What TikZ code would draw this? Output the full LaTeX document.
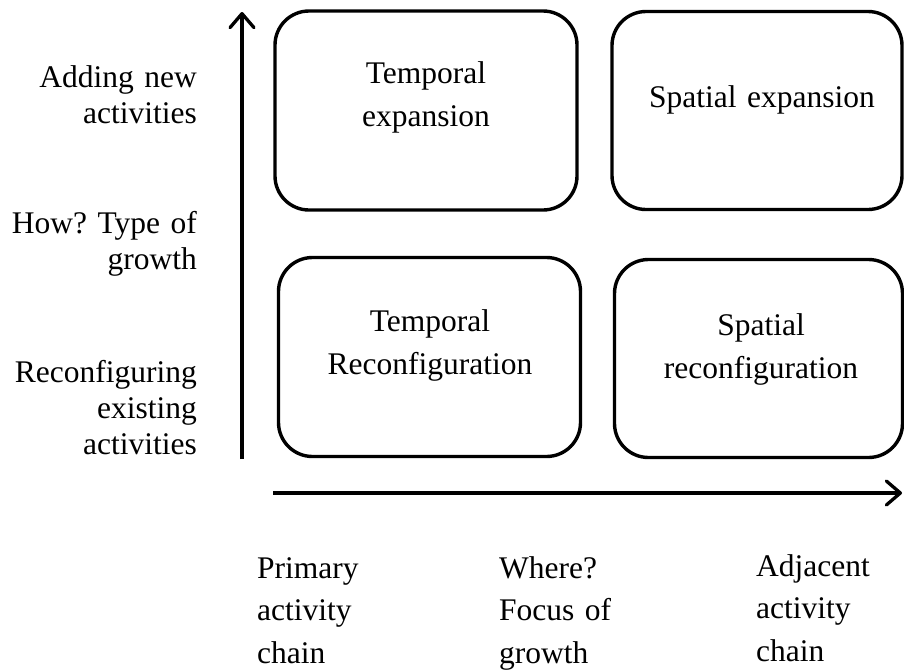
\documentclass[tikz,border=0pt]{standalone}
\usepackage{fontspec}
\setmainfont{Liberation Serif}
\usetikzlibrary{arrows.meta}
\frenchspacing
\begin{document}
\begin{tikzpicture}[x=1pt, y=-1pt,
  cell/.style={draw=black, line width=3.4pt, rounded corners=34pt, inner sep=0pt},
  celltext/.style={font=\fontsize{31.5}{43}\selectfont, text width=340pt,
    align=center, inner sep=0pt, anchor=base},
  leftlabel/.style={font=\fontsize{31.5}{36}\selectfont, text width=200pt,
    align=right, inner sep=0pt, anchor=base east},
  bottomlabel/.style={font=\fontsize{31.5}{42.5}\selectfont, text width=140pt,
    align=left, inner sep=0pt, anchor=base west},
  axis/.style={line width=3.3pt, -{Straight Barb[length=14pt, width=24pt, round]}}]

  \useasboundingbox (0,0) rectangle (904,670);

  % the four quadrants
  \node[cell, minimum width=302pt, minimum height=199pt] (tl) at (426,110.5) {};
  \node[cell, minimum width=290pt, minimum height=198pt] (tr) at (757,110.5) {};
  \node[cell, minimum width=302pt, minimum height=199pt] (bl) at (429.5,357) {};
  \node[cell, minimum width=288pt, minimum height=198pt] (br) at (758.5,358.5) {};

  \node[celltext] (tltext) at (426,83) {Temporal\\expansion};
  \node[celltext] (trtext) at (762,107) {Spatial expansion};
  \node[celltext] (bltext) at (430,331) {Temporal\\Reconfiguration};
  \node[celltext] (brtext) at (761,335) {Spatial\\reconfiguration};

  % axes
  \coordinate (vbot) at (242,459);
  \coordinate (vtop) at (242,12);
  \coordinate (hleft) at (273,493);
  \coordinate (hright) at (902,493);
  \draw[axis] (vbot) -- (vtop);
  \draw[axis] (hleft) -- (hright);

  % vertical axis labels
  \node[leftlabel] (adding) at (197,87) {Adding new\\activities};
  \node[leftlabel] (how) at (197,233) {How? Type of\\growth};
  \node[leftlabel] (reconf) at (197,382) {Reconfiguring\\existing\\activities};

  % horizontal axis labels
  \node[bottomlabel] (primary) at (257,578) {Primary\\activity\\chain};
  \node[bottomlabel] (where) at (499,578) {Where?\\Focus of\\growth};
  \node[bottomlabel] (adjacent) at (756,576) {Adjacent\\activity\\chain};
\end{tikzpicture}
\end{document}
